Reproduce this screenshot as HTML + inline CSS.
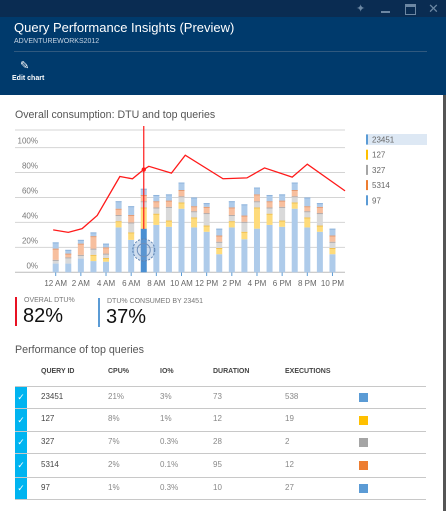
<!DOCTYPE html>
<html><head><meta charset="utf-8"><style>
body{margin:0;width:446px;height:511px;overflow:hidden;background:#fff;font-family:"Liberation Sans",sans-serif;position:relative}
.abs{position:absolute}
.hdrtop{left:0;top:0;width:446px;height:17px;background:#0a2c52}
.hdr{left:0;top:17px;width:446px;height:78px;background:#003a6c}
.t{white-space:nowrap}
</style></head><body>
<div class="abs hdrtop"></div>
<div class="abs t" style="left:356px;top:2px;color:#6c87a3;font-size:11px">✦</div>
<div class="abs" style="left:381px;top:11px;width:9px;height:2px;background:#6c87a3"></div>
<div class="abs" style="left:405px;top:4px;width:9px;height:7px;border:1px solid #6c87a3;border-top-width:3px"></div>
<div class="abs t" style="left:428px;top:1px;color:#6c87a3;font-size:13px">✕</div>
<div class="abs hdr"></div>
<div class="abs t" style="left:14px;top:20px;color:#fff;font-size:13px">Query Performance Insights (Preview)</div>
<div class="abs t" style="left:14px;top:38px;color:#c5d3e2;font-size:7px">ADVENTUREWORKS2012</div>
<div class="abs" style="left:14px;top:51px;width:413px;height:1px;background:#30597f"></div>
<div class="abs t" style="left:20px;top:59px;color:#fff;font-size:11px">✎</div>
<div class="abs t" style="left:12px;top:75px;color:#fff;font-size:7px;font-weight:bold">Edit chart</div>
<div class="abs" style="left:443px;top:95px;width:3px;height:416px;background:#555"></div>

<div class="abs t" style="left:15px;top:109px;color:#555;font-size:10.6px">Overall consumption: DTU and top queries</div>

<svg class="abs" style="left:0;top:0" width="446" height="300" id="chart"></svg>

<div class="abs" style="left:15px;top:297px;width:2px;height:29px;background:#e81123"></div>
<div class="abs t" style="left:24px;top:297px;color:#777;font-size:7px">OVERAL DTU%</div>
<div class="abs t" style="left:23px;top:305px;color:#111;font-size:20px">82%</div>
<div class="abs" style="left:98px;top:298px;width:2px;height:29px;background:#5b9bd5"></div>
<div class="abs t" style="left:107px;top:298px;color:#777;font-size:7px">DTU% CONSUMED BY 23451</div>
<div class="abs t" style="left:106px;top:306px;color:#111;font-size:20px">37%</div>

<div class="abs t" style="left:15px;top:344px;color:#555;font-size:10.7px">Performance of top queries</div>
<div id="table"></div>

<script>
const NS='http://www.w3.org/2000/svg';
const svg=document.getElementById('chart');
const hours=[0,1,2,3,4,5,6,7,8,9,10,11,12,13,14,15,16,17,18,19,20,21,22];
const seriesBase=[7,7,11,9,8.5,36,26,35,38,36.5,51,36,32.5,14.5,36,26.5,35,38,36.5,51,36,32.5,14.5];
const series127=[0,0,0,5,3,5,6,17,9,5,5,8,5,5,5,6,17,9,5,5,8,5,5];
const series327=[3,5,3,5,3.5,5,8,5,5,11,5,5,10,5,5,8,5,5,11,5,5,10,5];
const series5314=[9,3,9,10,5,5,6,5,5,5,5,4,5,5,6,5,5.5,5,5,5,4,5,5];
const series97=[5,3,3,3,3,6,7,5,5,5,6,7,3,5.5,5,9,5.5,5,5,6,7,3,5.5];
const lineHours=[-0.2,1,2.1,3.3,5.1,6.1,7.0,7.4,9.2,10.3,13.3,15.2,16.6,18.8,20.0,23.0];
const lineValues=[34,32,35,45.6,76.8,75,82.4,85,79.5,93.9,75,75.7,83.7,76.3,86.7,65.3];
const yTicks=[0,20,40,60,80,100];
const xTickHours=[0,2,4,6,8,10,12,14,16,18,20,22];
const xTickLabels=['12 AM','2 AM','4 AM','6 AM','8 AM','10 AM','12 PM','2 PM','4 PM','6 PM','8 PM','10 PM'];
const legendLabels=['23451','127','327','5314','97'];
const legendColors=['#5b9bd5','#ffc000','#a5a5a5','#ed7d31','#5b9bd5'];
const selectedHour=7;
const x=h=>55.7+h*12.58;
const y=v=>272.3-1.247*v;
function el(t,a,p){const e=document.createElementNS(NS,t);for(const k in a)e.setAttribute(k,a[k]);(p||svg).appendChild(e);return e;}
let g=el('line',{x1:15,x2:345,y1:130,y2:130,stroke:'#d4d4d4'});

yTicks.forEach(v=>{
  const l=el('line',{x1:15,x2:345,y1:y(v),y2:y(v),stroke:v===0?'#bbb':'#d4d4d4'});
  
  
  const t=el('text',{x:38,y:y(v)-4,'text-anchor':'end','font-size':'8','fill':'#777','font-family':'Liberation Sans'});
  t.textContent=v+'%';
  
  
});
xTickHours.forEach((h,i)=>{
  const l=el('line',{x1:x(h),x2:x(h),y1:272.5,y2:276,stroke:'#5b9bd5'});
  
  
  const t=el('text',{x:x(h),y:286,'text-anchor':'middle','font-size':'8','fill':'#666','font-family':'Liberation Sans'});
  t.textContent=xTickLabels[i];
  
  
});
const segs=[[seriesBase,'#aecbea','#aecbea'],[series127,'#fedb7b','#f0c050'],[series327,'#d9d9d9','#b0a8a8'],[series5314,'#f7bf9e','#e39a72'],[series97,'#aecbea','#8fb4dc']];
hours.forEach((h,i)=>{
  let acc=0;
  segs.forEach((s,k)=>{
    const v=s[0][i]; if(!v) return;
    let fill=s[1];
    if(h===selectedHour&&k===0) fill='#4a8fd2';
    const r=el('rect',{x:x(h)-3,y:y(acc+v),width:6,height:y(acc)-y(acc+v),fill:fill});
    
    
    if(k>0){el('rect',{x:x(h)-3,y:y(acc+v),width:6,height:1,fill:s[2]});}
    acc+=v;
  });
});
const sx=x(selectedHour);
let c1=el('circle',{cx:sx,cy:250,r:11,fill:'rgba(120,160,210,0.35)',stroke:'#5a7fae','stroke-dasharray':'2 1.5'});

el('circle',{cx:sx,cy:250,r:6.5,fill:'none',stroke:'#6f90bb','stroke-width':1});
const pts=lineHours.map((h,i)=>x(h)+','+y(lineValues[i])).join(' ');
let pl=el('polyline',{points:pts,fill:'none',stroke:'#ff1a1a','stroke-width':1.3});

let vl=el('line',{x1:sx,x2:sx,y1:126,y2:229,stroke:'#ff1a1a','stroke-width':1.2});

let dt=el('circle',{cx:sx,cy:y(lineValues[6]),r:2.2,fill:'#ff1a1a'});

el('rect',{x:366,y:134,width:61,height:11,fill:'#dde8f4'});
legendLabels.forEach((lb,i)=>{
  const yy=139.5+i*15.2;
  const r=el('rect',{x:366,y:yy-5,width:2,height:10,fill:legendColors[i]});
  
  
  const t=el('text',{x:372,y:yy+3,'font-size':'8','fill':'#666','font-family':'Liberation Sans'});
  t.textContent=lb;
  
  
});
const tbl=document.getElementById('table');
const cols=[41,108,160,213,285];
const heads=['QUERY ID','CPU%','IO%','DURATION','EXECUTIONS'];
const rows=[['23451','21%','3%','73','538','#5b9bd5'],['127','8%','1%','12','19','#ffc000'],['327','7%','0.3%','28','2','#a5a5a5'],['5314','2%','0.1%','95','12','#ed7d31'],['97','1%','0.3%','10','27','#5b9bd5']];
const lines=[386,408,431,453,477,499];
function div(css,txt,name,inter){const d=document.createElement('div');d.className='abs t';d.style.cssText=css;if(txt)d.textContent=txt;


tbl.appendChild(d);return d;}
heads.forEach((h,i)=>div(`left:${cols[i]}px;top:368px;font-size:7px;font-weight:bold;color:#444`,h,'column-header','true'));
lines.forEach(l=>div(`left:15px;top:${l}px;width:411px;height:1px;background:#c8c8c8`,'','row-divider','false'));
rows.forEach((r,i)=>{
  const top=lines[i]+1,h=lines[i+1]-lines[i]-1,mid=top+h/2;
  div(`left:15px;top:${top}px;width:12px;height:${h}px;background:#00b4f0;color:#fff;font-size:9px;text-align:center;line-height:${h}px`,'✓','row-checkbox','true');
  r.slice(0,5).forEach((v,j)=>div(`left:${cols[j]}px;top:${mid-6}px;font-size:8px;color:${j===0?'#444':'#888'}`,v,'cell','false'));
  div(`left:359px;top:${mid-4.5}px;width:9px;height:9px;background:${r[5]}`,'','row-color-swatch','false');
});
</script>
</body></html>
